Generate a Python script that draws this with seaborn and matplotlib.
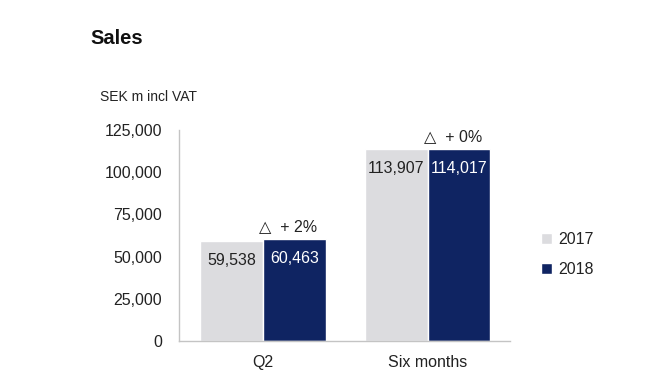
import pandas as pd
import matplotlib
matplotlib.use("Agg")
import matplotlib.pyplot as plt
import seaborn as sns

# data
periods = ["Q2", "Six months"]
years = ["2017", "2018"]
sales_2017 = [59538, 113907]
sales_2018 = [60463, 114017]
changes = ["+ 2%", "+ 0%"]
y_ticks = [0, 25000, 50000, 75000, 100000, 125000]

df = pd.DataFrame({
    "period": periods * 2,
    "year": [years[0]] * 2 + [years[1]] * 2,
    "sales": sales_2017 + sales_2018,
})

sns.set_theme(style="white")
plt.rcParams["font.family"] = ["Liberation Sans", "DejaVu Sans"]

palette = {"2017": "#dcdcdf", "2018": "#0f2462"}

fig = plt.figure(figsize=(6.61, 3.78), dpi=100)
ax = fig.add_axes([0.2708, 0.0979, 0.5008, 0.558])

sns.barplot(data=df, x="period", y="sales", hue="year", palette=palette,
            width=0.76, saturation=1, ax=ax)

ax.set_xlim(-0.51, 1.5)
ax.set_ylim(0, 125000)
ax.set_yticks(y_ticks)
ax.set_yticklabels([f"{v:,}" for v in y_ticks])
ax.set_xlabel("")
ax.set_ylabel("")
ax.tick_params(axis="both", length=0, labelsize=11.5, colors="#222222")
ax.tick_params(axis="y", pad=12)
ax.tick_params(axis="x", pad=10)
for side in ["top", "right"]:
    ax.spines[side].set_visible(False)
for side in ["left", "bottom"]:
    ax.spines[side].set_color("#c4c4c4")
    ax.spines[side].set_linewidth(1)

# value labels inside the bars
for container, txt_color in zip(ax.containers, ["#222222", "white"]):
    for bar in container:
        h = bar.get_height()
        ax.annotate(f"{int(h):,}", (bar.get_x() + bar.get_width() / 2, h),
                    xytext=(0, -20), textcoords="offset pixels",
                    ha="center", va="center", fontsize=11.5, color=txt_color)

# change above the 2018 bars
for bar, ch in zip(ax.containers[1], changes):
    ax.annotate("\u25b3  " + ch, (bar.get_x() + bar.get_width() / 2, bar.get_height()),
                xytext=(-6, 12), textcoords="offset pixels",
                ha="center", va="center", fontsize=11.5, color="#222222")

leg = ax.legend(loc="center left", bbox_to_anchor=(1.05, 0.41), frameon=False,
                fontsize=11.5, handlelength=0.7, handleheight=0.7,
                handletextpad=0.4, labelspacing=0.95)
for t in leg.get_texts():
    t.set_color("#222222")

fig.text(90 / 661, 1 - 38 / 378, "Sales", fontsize=14.5, fontweight="bold",
         va="center", ha="left", color="#111111")
fig.text(100 / 661, 1 - 97 / 378, "SEK m incl VAT", fontsize=10,
         va="center", ha="left", color="#222222")

fig.savefig("out.png", dpi=100)
